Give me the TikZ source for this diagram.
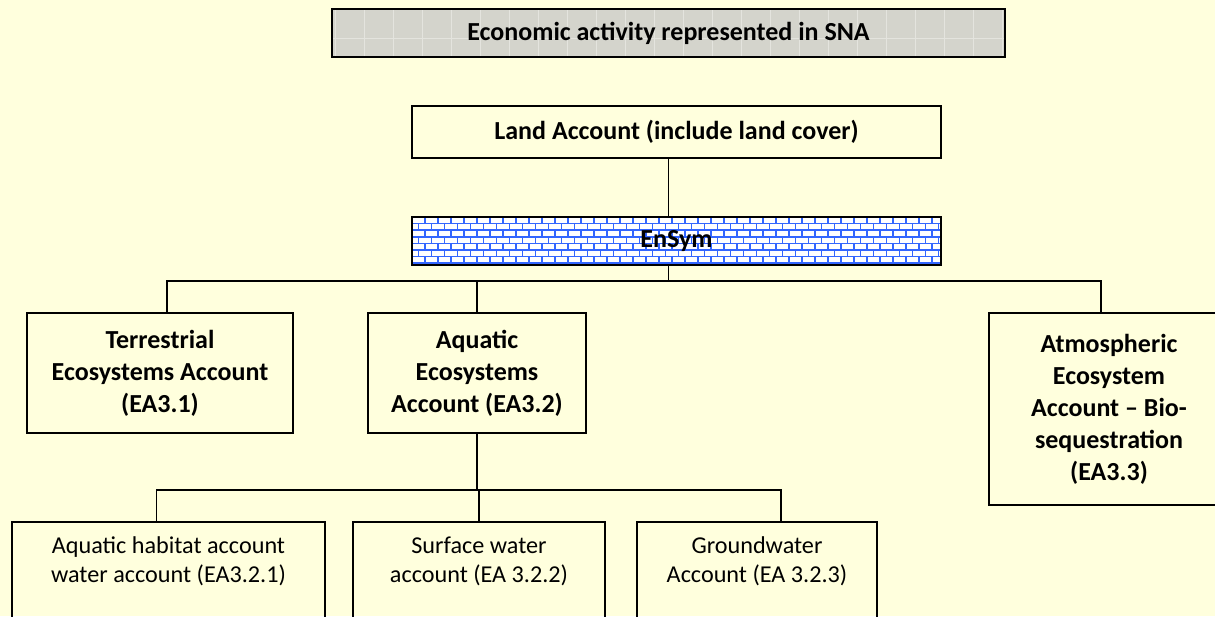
\documentclass[tikz,border=0pt]{standalone}
\usepackage{fontspec}
\setmainfont{Carlito}
\usetikzlibrary{calc}

\definecolor{paper}{RGB}{255,255,221}
\definecolor{snagray}{RGB}{212,212,204}
\definecolor{snagrid}{RGB}{228,228,222}
\definecolor{brickblue}{RGB}{51,102,255}

\tikzset{
  box/.style={draw=black, line width=1.6pt, align=center, inner sep=2pt},
  boldtxt/.style={font=\bfseries\fontsize{26}{32}\selectfont},
  plaintxt/.style={font=\fontsize{24.2}{29}\selectfont},
  conn/.style={line width=1.6pt},
  gridfill/.style={fill=snagray, path picture={
    \foreach \gx in {3,32,...,700}
      \draw[snagrid, line width=0.8pt]
        ([xshift=\gx pt]path picture bounding box.north west) --
        ([xshift=\gx pt]path picture bounding box.south west);
    \draw[snagrid, line width=0.8pt]
      ([yshift=-29pt]path picture bounding box.north west) --
      ([yshift=-29pt]path picture bounding box.north east);
  }},
  brickfill/.style={fill=white, path picture={
    \foreach \r in {0,...,8} {
      \draw[brickblue, line width=1.5pt]
        ([yshift=-\r*6.6pt]path picture bounding box.north west) --
        ([yshift=-\r*6.6pt]path picture bounding box.north east);
      \pgfmathsetmacro{\off}{mod(\r,2)*6.5}
      \foreach \c in {0,...,42}
        \draw[brickblue, line width=1.5pt]
          ([xshift=\c*13pt+\off pt, yshift=-\r*6.6pt]path picture bounding box.north west) --
          ++(0,6.6);
    }
  }},
  waterlabel/.style={plaintxt, align=center, anchor=north, yshift=-12pt},
}

\begin{document}
\begin{tikzpicture}[x=1pt,y=-1pt]
\clip (0,0) rectangle (1215,616);
\fill[paper] (0,0) rectangle (1215,616);

% top row
\node[box, gridfill, boldtxt, line width=2pt, minimum width=673pt, minimum height=48pt] (sna) at (668.5,33) {Economic activity represented in SNA};
\node[box, boldtxt, minimum width=529pt, minimum height=52pt] (land) at (676.5,132) {Land Account (include land cover)};
\node[box, brickfill, boldtxt, minimum width=529pt, minimum height=48pt] (ensym) at (676.5,241) {\raisebox{-5pt}{EnSym}};

% ecosystem accounts
\node[box, boldtxt, minimum width=266pt, minimum height=120pt] (terr) at (160,373) {Terrestrial\\Ecosystems Account\\(EA3.1)};
\node[box, boldtxt, minimum width=218pt, minimum height=120pt] (aqua) at (477,373) {Aquatic\\Ecosystems\\Account (EA3.2)};
\node[box, boldtxt, minimum width=240pt, minimum height=192pt] (atmo) at (1109,409) {Atmospheric\\Ecosystem\\Account -- Bio-\\sequestration\\(EA3.3)};

% water accounts
\node[box, minimum width=313pt, minimum height=118pt,
  label={[waterlabel]north:Aquatic habitat account\\water account (EA3.2.1)}] (habitat) at (168.5,581) {};
\node[box, minimum width=252pt, minimum height=118pt,
  label={[waterlabel]north:Surface water\\account (EA 3.2.2)}] (surface) at (479,581) {};
\node[box, minimum width=240pt, minimum height=118pt,
  label={[waterlabel]north:Groundwater\\Account (EA 3.2.3)}] (ground) at (757,581) {};

% connectors
\coordinate (topbar) at (0,281);
\coordinate (lowbar) at (0,490);
\draw[conn] ([xshift=-8pt]land.south) -- ([xshift=-8pt]ensym.north);
\draw[conn] ([xshift=-8pt]ensym.south) -- ([xshift=-8pt]ensym.south |- topbar);
\draw[conn] ([xshift=7pt]terr.north) |- ($(atmo.north |- topbar)+(-8,0)$) -- ([xshift=-8pt]atmo.north);
\draw[conn] (aqua.north) -- (aqua.north |- topbar);
\draw[conn] (aqua.south) -- (aqua.south |- lowbar);
\draw[conn] ([xshift=-12pt]habitat.north) |- ($(ground.north |- lowbar)+(24,0)$) -- ([xshift=24pt]ground.north);
\draw[conn] (surface.north) -- (surface.north |- lowbar);
\end{tikzpicture}
\end{document}
